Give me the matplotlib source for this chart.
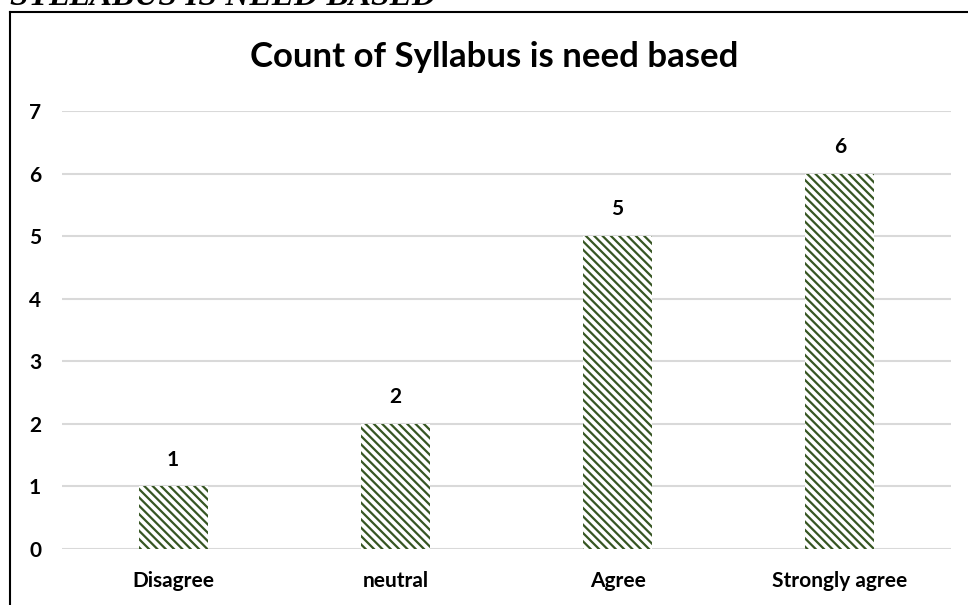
import matplotlib
matplotlib.use('Agg')
import matplotlib.pyplot as plt
from matplotlib.lines import Line2D

# Data
categories = ['Disagree', 'neutral', 'Agree', 'Strongly agree']
counts = [1, 2, 5, 6]
y_ticks = [0, 1, 2, 3, 4, 5, 6, 7]

title = 'Count of Syllabus is need based'
heading = 'SYLLABUS IS NEED BASED'

BAR_GREEN = '#375623'
GRID_GREY = '#d9d9d9'

plt.rcParams['font.family'] = ['Lato', 'DejaVu Sans']
plt.rcParams['hatch.linewidth'] = 1.6

W, H = 968, 605
fig = plt.figure(figsize=(W / 100, H / 100), dpi=100)

# Plot area (figure fractions)
ax = fig.add_axes([62 / W, 1 - 549 / H, (951 - 62) / W, (549 - 111) / H])

x = range(len(categories))
ax.bar(x, counts, width=0.31, facecolor='white', edgecolor=BAR_GREEN,
       linewidth=0, hatch='\\\\\\\\', zorder=3)

# Data labels
for i, v in enumerate(counts):
    ax.annotate(str(v), (i, v), xytext=(0, 12), textcoords='offset points',
                ha='center', va='bottom', fontsize=15, fontweight='bold')

ax.set_xlim(-0.5, len(categories) - 0.5)
ax.set_ylim(0, 7)
ax.set_yticks(y_ticks)
ax.set_xticks(list(x))
ax.set_xticklabels(categories, fontsize=15, fontweight='bold')
ax.set_yticklabels([str(t) for t in y_ticks], fontsize=15, fontweight='bold')

ax.grid(axis='y', color=GRID_GREY, linewidth=1.5, zorder=0)
for s in ax.spines.values():
    s.set_visible(False)
ax.tick_params(axis='both', length=0)
ax.tick_params(axis='x', pad=16)
ax.tick_params(axis='y', pad=15)

# Title
fig.text(494 / W, 1 - 57 / H, title, ha='center', va='center',
         fontsize=25, fontweight='bold')

# Cut-off heading above the chart frame
fig.text(10 / W, 1 - 5 / H, heading, ha='left', va='baseline',
         family='Liberation Serif', fontstyle='italic', fontweight='bold',
         fontsize=24)

# Chart frame (left and top edges visible)
fig.add_artist(Line2D([10 / W, 10 / W], [0, 1 - 12 / H], color='black',
                      linewidth=1.5, transform=fig.transFigure))
fig.add_artist(Line2D([10 / W, 1], [1 - 12 / H, 1 - 12 / H], color='black',
                      linewidth=1.5, transform=fig.transFigure))

fig.savefig('out.png', dpi=100, facecolor='white')
